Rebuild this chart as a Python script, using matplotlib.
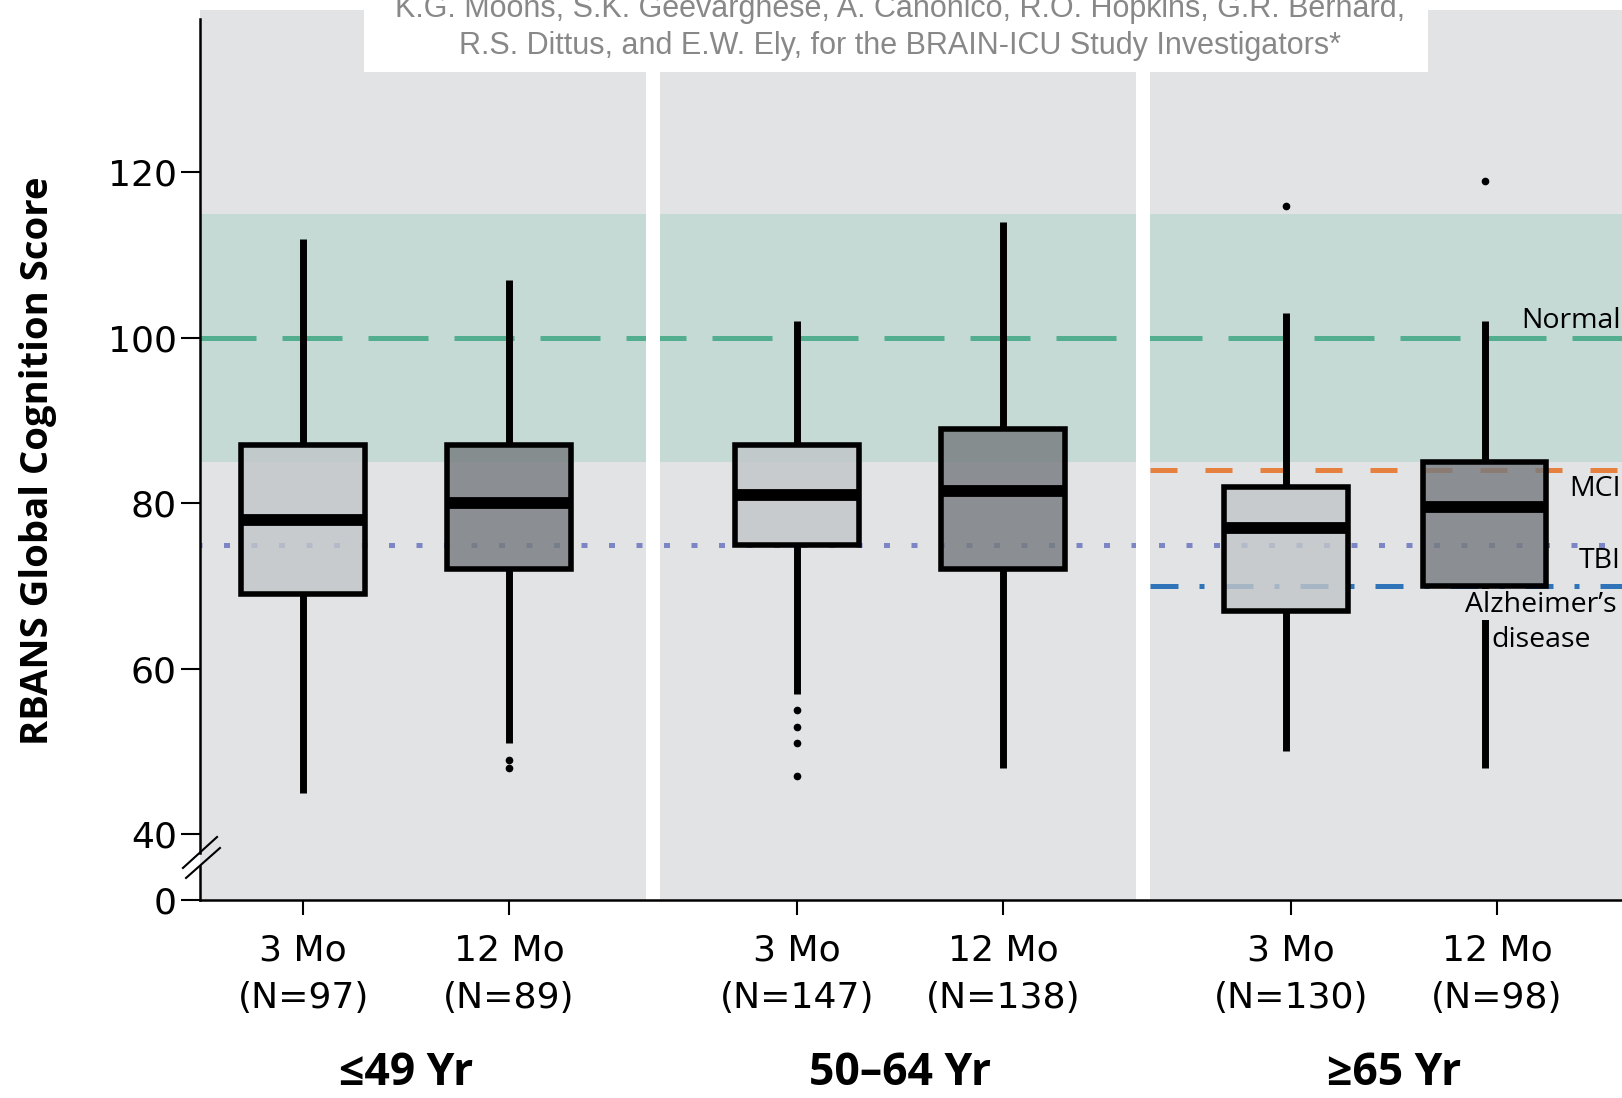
import matplotlib
matplotlib.use("Agg")
import matplotlib.pyplot as plt
from matplotlib.patches import Rectangle
from matplotlib.transforms import blended_transform_factory

plt.rcParams['font.family'] = ['Open Sans', 'DejaVu Sans']

# --- data ---
tick_pos = [0, 1, 2.4, 3.4, 4.8, 5.8]
box_pos = [0, 1, 2.4, 3.4, 4.775, 5.74]
visits = ['3 Mo', '12 Mo', '3 Mo', '12 Mo', '3 Mo', '12 Mo']
n_pts = [97, 89, 147, 138, 130, 98]
groups = ['≤49 Yr', '50–64 Yr', '≥65 Yr']
group_x = [0.5, 2.9, 5.3]

q1 = [69, 72, 75, 72, 67, 70]
med = [78, 80, 81, 81.5, 77, 79.5]
q3 = [87, 87, 87, 89, 82, 85]
whislo = [45, 51, 57, 48, 50, 48]
whishi = [112, 107, 102, 114, 103, 102]
fliers = [[], [49, 48], [55, 53, 51, 47], [], [116], [119]]

normal_band = (85, 115)
ref_normal = 100
ref_mci = 84
ref_tbi = 75
ref_alz = 70

ytick_vals = [40, 60, 80, 100, 120]
header = ["K.G. Moons, S.K. Geevarghese, A. Canonico, R.O. Hopkins, G.R. Bernard,",
          "R.S. Dittus, and E.W. Ely, for the BRAIN-ICU Study Investigators*"]

# colours
GRAY_BG = '#e2e3e5'
TEAL = '#c5d9d5'
GREEN = '#52ae8e'
ORANGE = '#e5803e'
PERI = '#7d86c4'
BLUE = '#2f74b8'
LIGHT_BOX = (0.76, 0.775, 0.79, 0.82)
DARK_BOX = (0.47, 0.487, 0.50, 0.82)
TICKFONT = ['DejaVu Sans']

# y=0 is drawn at 32 (broken axis)
Y_ZERO = 32

fig = plt.figure(figsize=(16.22, 10.98), dpi=100)
ax = fig.add_axes([0.1231, 0.18, 0.8769, 0.8106])
ax.set_xlim(-0.5025, 6.407)
ax.set_ylim(Y_ZERO, 139.6)
ax.set_facecolor(GRAY_BG)

ax.axhspan(normal_band[0], normal_band[1], color=TEAL, zorder=0.5, lw=0)

# panel borders (white gaps)
for gx in [1.70, 4.08]:
    ax.axvspan(gx - 0.032, gx + 0.032, color='white', zorder=2.5, lw=0)

# reference lines
x_all = (-0.52, 6.5)
x_old = (4.112, 6.5)
ax.hlines(ref_normal, *x_all, colors=GREEN, lw=3.6, linestyles=(0, (12, 5.2)), zorder=2)
ax.hlines(ref_tbi, *x_all, colors=PERI, lw=3.6, linestyles=(0, (1.2, 4.3)), zorder=2)
ax.hlines(ref_mci, *x_old, colors=ORANGE, lw=3.6, linestyles=(0, (5.4, 5.6)), zorder=2)
ax.hlines(ref_alz, *x_old, colors=BLUE, lw=3.6, linestyles=(0, (5.6, 4.2, 1.0, 4.2)), zorder=2)

stats = []
for i in range(len(box_pos)):
    stats.append(dict(med=med[i], q1=q1[i], q3=q3[i], whislo=whislo[i],
                      whishi=whishi[i], fliers=fliers[i]))

bp = ax.bxp(stats, positions=box_pos, widths=0.6, patch_artist=True,
            showcaps=False, manage_ticks=False,
            boxprops=dict(linewidth=4, edgecolor='black'),
            medianprops=dict(color='black', linewidth=8.5, solid_capstyle='butt'),
            whiskerprops=dict(color='black', linewidth=5, solid_capstyle='butt'),
            flierprops=dict(marker='o', markerfacecolor='black',
                            markeredgecolor='black', markersize=4.5))
for i, b in enumerate(bp['boxes']):
    b.set_facecolor(LIGHT_BOX if i % 2 == 0 else DARK_BOX)
    b.set_zorder(3)
for art in bp['medians'] + bp['whiskers'] + bp['fliers']:
    art.set_zorder(4)

# labels for reference lines
ax.text(6.40, 102.1, 'Normal', ha='right', va='center', fontsize=20.5, zorder=5)
ax.text(6.40, 81.75, 'MCI', ha='right', va='center', fontsize=20.5, zorder=5)
ax.text(6.40, 73, 'TBI', ha='right', va='center', fontsize=20.5, zorder=5)
ax.text(6.015, 67.75, 'Alzheimer’s', ha='center', va='center', fontsize=20.5, zorder=5,
        bbox=dict(facecolor=GRAY_BG, edgecolor='none', pad=1))
ax.text(6.015, 63.5, 'disease', ha='center', va='center', fontsize=20.5, zorder=5)

# axes
ax.spines['top'].set_visible(False)
ax.spines['right'].set_visible(False)
ax.spines['left'].set_linewidth(1.8)
ax.spines['bottom'].set_linewidth(1.8)
ax.spines['left'].set_bounds(37.7, 138.6)
ax.plot([-0.5025, -0.5025], [Y_ZERO, 36.2], color='black', lw=1.8, clip_on=False, zorder=6)

ax.set_yticks([Y_ZERO] + ytick_vals)
ax.set_yticklabels(['0'] + [str(v) for v in ytick_vals], family=TICKFONT)
ax.tick_params(axis='y', length=13.4, width=1.5, labelsize=26, pad=3)

ax.set_xticks(tick_pos)
ax.set_xticklabels([f'{v}\n(N={n})' for v, n in zip(visits, n_pts)],
                   linespacing=1.5, family=TICKFONT)
ax.tick_params(axis='x', length=11, width=1.5, labelsize=26, pad=13)

# axis break marks
fig.add_artist(plt.Line2D([0.1128, 0.1338], [0.2095, 0.2377], color='black', lw=1.5))
fig.add_artist(plt.Line2D([0.1147, 0.1356], [0.2004, 0.2277], color='black', lw=1.5))

trans = blended_transform_factory(ax.transData, fig.transFigure)
for gx, g in zip(group_x, groups):
    ax.text(gx, 0.022, g, transform=trans, ha='center', va='center',
            fontsize=32, fontweight='bold')

fig.text(0.0235, 0.5806, 'RBANS Global Cognition Score', rotation=90,
         ha='center', va='center', fontsize=27.5, fontweight='bold')

# header box from the article page
fig.add_artist(Rectangle((0.2245, 0.934), 0.6556, 0.07, transform=fig.transFigure,
                         facecolor='white', edgecolor='none', zorder=10))
hfam = ['Liberation Sans Narrow', 'Liberation Sans', 'DejaVu Sans']
fig.text(0.555, 0.992, header[0], ha='center', va='center', color='#888888',
         fontsize=22, family=hfam, zorder=11)
fig.text(0.555, 0.9585, header[1], ha='center', va='center', color='#888888',
         fontsize=22, family=hfam, zorder=11)

fig.savefig('out.png', dpi=100)
